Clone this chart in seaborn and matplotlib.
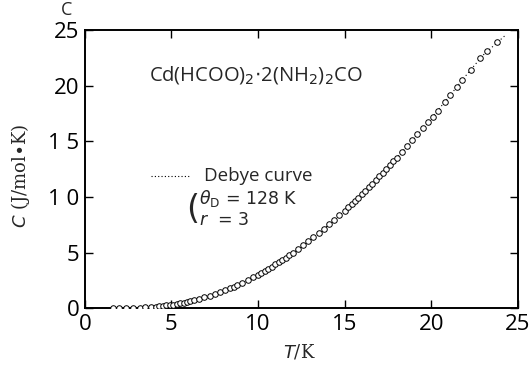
import pandas as pd
import seaborn as sns
import matplotlib.pyplot as plt


# measured heat capacity (circles)
temp_k = [1.6, 2.0, 2.4, 2.8, 3.2, 3.5, 3.8, 4.1, 4.3, 4.5, 4.7, 4.9, 5.1, 5.3, 5.5,
          5.7, 5.9, 6.1, 6.3, 6.6, 6.9, 7.2, 7.5, 7.8, 8.1, 8.4, 8.6, 8.8, 9.1, 9.4,
          9.7, 10.0, 10.2, 10.4, 10.6, 10.8, 11.0, 11.2, 11.4, 11.6, 11.8, 12.0, 12.3,
          12.6, 12.9, 13.2, 13.5, 13.8, 14.1, 14.4, 14.7, 15.0, 15.2, 15.4, 15.6, 15.8,
          16.0, 16.2, 16.4, 16.6, 16.8, 17.0, 17.2, 17.4, 17.6, 17.8, 18.0, 18.3, 18.6,
          18.9, 19.2, 19.5, 19.8, 20.1, 20.4, 20.8, 21.1, 21.5, 21.8, 22.3, 22.8, 23.2,
          23.8]
heat_cap = [0.00, 0.01, 0.02, 0.03, 0.05, 0.07, 0.10, 0.14, 0.17, 0.21, 0.25, 0.29, 0.33,
            0.38, 0.44, 0.50, 0.56, 0.63, 0.70, 0.83, 0.97, 1.12, 1.28, 1.45, 1.62, 1.81,
            1.94, 2.08, 2.30, 2.53, 2.77, 3.02, 3.19, 3.37, 3.55, 3.74, 3.93, 4.13, 4.33,
            4.54, 4.75, 4.97, 5.31, 5.66, 6.02, 6.39, 6.76, 7.14, 7.53, 7.93, 8.34, 8.76,
            9.05, 9.34, 9.64, 9.94, 10.25, 10.56, 10.88, 11.20, 11.52, 11.85, 12.18, 12.51,
            12.85, 13.19, 13.53, 14.05, 14.58, 15.11, 15.65, 16.19, 16.74, 17.20, 17.75,
            18.55, 19.15, 19.90, 20.50, 21.45, 22.45, 23.15, 23.95]

# Debye curve (theta_D = 128 K, r = 3), dotted
debye_t = [1.0, 2.0, 3.0, 4.0, 5.0, 6.0, 7.0, 8.0, 9.0, 10.0, 11.0, 12.0, 13.0, 14.0,
           15.0, 16.0, 17.0, 18.0, 19.0, 20.0, 21.0, 22.0, 23.0, 24.3]
debye_c = [0.00, 0.01, 0.04, 0.12, 0.32, 0.61, 1.04, 1.56, 2.19, 2.98, 3.90, 4.93, 6.12,
           7.38, 8.74, 10.20, 11.80, 13.50, 15.25, 17.05, 18.95, 20.90, 22.75, 24.55]

pts = pd.DataFrame({'T': temp_k, 'C': heat_cap})
curve = pd.DataFrame({'T': debye_t, 'C': debye_c})

sns.set_style('ticks')
plt.rcParams['font.family'] = ['DejaVu Sans']

fig = plt.figure(figsize=(5.3, 3.66), dpi=100)
ax = fig.add_axes([0.160, 0.158, 0.817, 0.760])

sns.lineplot(data=curve, x='T', y='C', ax=ax, color='black', lw=0.8,
             linestyle=(0, (1, 2.5)))
sns.scatterplot(data=pts, x='T', y='C', ax=ax, marker='o', s=16,
                facecolor='white', edgecolor='black', linewidth=0.7, zorder=3)

ax.set_xlim(0, 25)
ax.set_ylim(0, 25)
ax.set_xticks([0, 5, 10, 15, 20, 25])
ax.set_yticks([0, 5, 10, 15, 20, 25])
ax.set_xticklabels(['0', '5', '10', '15', '20', '25'])
ax.set_yticklabels(['0', '5', '1 0', '1 5', '20', '25'])
ax.tick_params(direction='in', length=6, width=1, top=True, right=True,
               labelsize=16, pad=4, colors='black')
for lab in ax.get_xticklabels() + ax.get_yticklabels():
    lab.set_family('Open Sans')
    lab.set_color('black')
for sp in ax.spines.values():
    sp.set_linewidth(1.4)
    sp.set_color('black')

ax.set_xlabel('')
ax.set_ylabel('')
fig.text(0.565, 0.038, r'$T$/K', ha='center', va='center', fontsize=13,
         family='DejaVu Serif')
fig.text(0.038, 0.52, r'$C$ (J/mol$\bullet$K)', ha='center', va='center', fontsize=13,
         rotation=90, family='DejaVu Serif')
fig.text(0.125, 0.972, 'C', ha='center', va='center', fontsize=13, family='Open Sans')

ax.text(3.7, 21.0, r'Cd(HCOO)$_2$$\cdot$2(NH$_2$)$_2$CO', fontsize=14.5,
        ha='left', va='center', family='Open Sans')
ax.plot([3.8, 6.0], [11.9, 11.9], color='black', lw=0.8, linestyle=(0, (1, 2)))
ax.text(6.9, 11.9, 'Debye curve', fontsize=13.5, ha='left', va='center',
        family='Open Sans')
ax.text(6.6, 9.9, r'$\theta_{\rm D}$ = 128 K', fontsize=12.5, ha='left', va='center')
ax.text(6.6, 7.9, r'$r$  = 3', fontsize=12.5, ha='left', va='center')
ax.text(6.25, 8.9, '(', fontsize=24, ha='center', va='center')

fig.savefig('out.png', dpi=100)
